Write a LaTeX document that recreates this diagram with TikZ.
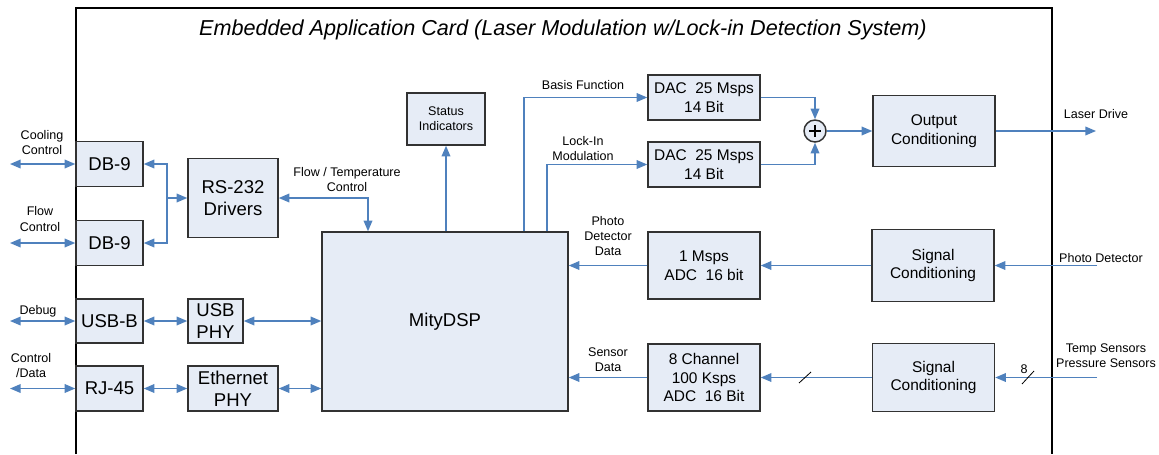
\documentclass[tikz,border=0pt]{standalone}
\usepackage{fontspec}
\setmainfont{Liberation Sans}
\usetikzlibrary{arrows.meta,calc}
\definecolor{boxfill}{RGB}{230,236,246}
\definecolor{boxline}{RGB}{50,50,50}
\definecolor{wire}{RGB}{79,129,189}
\begin{document}
\begin{tikzpicture}[x=0.75pt,y=-0.75pt,
  box/.style={draw=boxline,line width=1.1pt,fill=boxfill,inner sep=0pt,align=center},
  bigtxt/.style={font=\fontsize{13.9}{16.5}\selectfont},
  midtxt/.style={font=\fontsize{11.6}{14.2}\selectfont},
  lbl/.style={align=center,inner sep=0pt,font=\fontsize{9.4}{11.3}\selectfont},
  arr/.style={draw=wire,line width=1.1pt,-{Triangle[length=8pt,width=6.5pt]}},
  darr/.style={draw=wire,line width=1.1pt,{Triangle[length=8pt,width=6.5pt]}-{Triangle[length=8pt,width=6.5pt]}},
  slash/.style={draw=black,line width=0.6pt}]
\useasboundingbox (0,0) rectangle (1159,454);
% card frame
\draw[line width=1pt] (76,454) -- (76,8) -- (1052,8) -- (1052,454);
\node[inner sep=0pt,font=\fontsize{16.2}{19}\selectfont\itshape] (title) at (563,30) {Embedded Application Card (Laser Modulation w/Lock-in Detection System)};

% left boxes
\node[box,bigtxt,minimum width=50.25pt,minimum height=33.75pt] (db1) at (109.5,164) {DB-9};
\node[box,bigtxt,minimum width=50.25pt,minimum height=33.75pt] (db2) at (109.5,243) {DB-9};
\node[box,bigtxt,minimum width=67.5pt,minimum height=59.25pt] (rs) at (233,198) {RS-232\\Drivers};
\node[box,bigtxt,minimum width=50.25pt,minimum height=33pt] (usbb) at (109.5,321) {USB-B};
\node[box,bigtxt,minimum width=41.25pt,minimum height=33pt] (usbphy) at (215.5,321) {USB\\PHY};
\node[box,bigtxt,minimum width=50.25pt,minimum height=33.75pt] (rj) at (109.5,388.5) {RJ-45};
\node[box,bigtxt,minimum width=67.5pt,minimum height=33.75pt] (eth) at (233,388.5) {Ethernet\\PHY};

% MityDSP
\node[box,bigtxt,minimum width=184.5pt,minimum height=134.25pt] (dsp) at (445,321.5) {MityDSP};
\node[box,lbl,minimum width=58.5pt,minimum height=39pt] (status) at (446,119) {Status\\Indicators};

% right boxes
\node[box,midtxt,minimum width=84pt,minimum height=33.75pt] (dac1) at (704,97.5) {DAC\ \ 25 Msps\\14 Bit};
\node[box,midtxt,minimum width=84pt,minimum height=33.75pt] (dac2) at (704,164.5) {DAC\ \ 25 Msps\\14 Bit};
\node[circle,draw=boxline,line width=1.1pt,fill=boxfill,minimum size=16.5pt,inner sep=0pt] (sum) at (815,131) {};
\draw[line width=1.4pt] ($(sum.center)+(-6,0)$) -- ($(sum.center)+(6,0)$);
\draw[line width=1.4pt] ($(sum.center)+(0,-6)$) -- ($(sum.center)+(0,6)$);
\node[box,midtxt,minimum width=91.5pt,minimum height=53.25pt] (outc) at (934,131) {Output\\Conditioning};
\node[box,midtxt,minimum width=84pt,minimum height=50.25pt] (adc1) at (704,265.5) {1 Msps\\ADC\ \ 16 bit};
\node[box,midtxt,minimum width=91.5pt,minimum height=54pt] (sc1) at (933,265.5) {Signal\\Conditioning};
\node[box,midtxt,minimum width=84pt,minimum height=50.25pt] (adc2) at (704,377.5) {8 Channel\\100 Ksps\\ADC\ \ 16 Bit};
\node[box,midtxt,minimum width=91.5pt,minimum height=51pt] (sc2) at (933.5,377.5) {Signal\\Conditioning};

% free ends
\coordinate (cool) at (10,164);
\coordinate (flow) at (10,243);
\coordinate (dbg) at (10,321);
\coordinate (ctl) at (10,388.5);
\coordinate (br) at (167,198);
\coordinate (ft) at (368,198);
\coordinate (bf) at (524,97.5);
\coordinate (li) at (547,164.5);
\coordinate (sj) at (815,97.5);
\coordinate (sj2) at (815,164.5);
\coordinate (laser) at (1096,131);
\coordinate (pd) at (1097,265.5);
\coordinate (ts) at (1097,377.5);

% connectors left
\draw[darr] (cool) -- (db1.west);
\draw[darr] (flow) -- (db2.west);
\draw[darr] (db1.east) -- (br |- db1.east) -- (br |- db2.east) -- (db2.east);
\draw[arr] (br) -- (br -| rs.west);
\draw[darr] (dbg) -- (usbb.west);
\draw[darr] (ctl) -- (rj.west);
\draw[darr] (usbb.east) -- (usbphy.west);
\draw[darr] (usbphy.east) -- (usbphy.east -| dsp.west);
\draw[darr] (rj.east) -- (eth.west);
\draw[darr] (eth.east) -- (eth.east -| dsp.west);
\draw[darr] (rs.east |- ft) -- (ft) -- (ft |- dsp.north);
\draw[arr] (status.south |- dsp.north) -- (status.south);

% DAC paths
\draw[arr] (bf |- dsp.north) -- (bf) -- (dac1.west);
\draw[arr] (li |- dsp.north) -- (li) -- (dac2.west);
\draw[arr] (dac1.east) -- (sj) -- (sum.north);
\draw[arr] (dac2.east) -- (sj2) -- (sum.south);
\draw[arr] (sum.east) -- (outc.west);
\draw[arr] (outc.east) -- (laser);

% ADC paths
\draw[arr] (adc1.west) -- (adc1.west -| dsp.east);
\draw[arr] (sc1.west) -- (adc1.east);
\draw[arr] (pd) -- (sc1.east);
\draw[arr] (adc2.west) -- (adc2.west -| dsp.east);
\draw[arr] (sc2.west) -- (adc2.east);
\draw[arr] (ts) -- (sc2.east);
\draw[slash] (799,383) -- (811,372);
\draw[slash] (1022,384) -- (1034,371);
\node[lbl] (eight) at (1024,369) {8};

% labels
\node[lbl] (lcool) at (42,142.5) {Cooling\\Control};
\node[lbl] (lflow) at (40,219) {Flow\\Control};
\node[lbl] (ldbg) at (38,311) {Debug};
\node[lbl] (lctl) at (31,365.5) {Control\\/Data};
\node[lbl] (lft) at (347,179.5) {Flow / Temperature\\Control};
\node[lbl] (lbf) at (583,85) {Basis Function};
\node[lbl] (lli) at (583,148.5) {Lock-In\\Modulation};
\node[lbl] (lpdd) at (608,236) {Photo\\Detector\\Data};
\node[lbl] (lsd) at (608,359.5) {Sensor\\Data};
\node[lbl] (llaser) at (1096,114) {Laser Drive};
\node[lbl] (lpd) at (1101,258) {Photo Detector};
\node[lbl] (lts) at (1106,355.5) {Temp Sensors\\Pressure Sensors};
\end{tikzpicture}
\end{document}
